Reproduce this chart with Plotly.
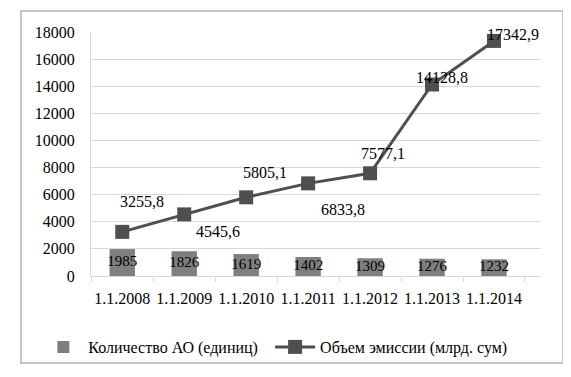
import plotly.graph_objects as go

categories = ["1.1.2008", "1.1.2009", "1.1.2010", "1.1.2011", "1.1.2012", "1.1.2013", "1.1.2014"]
count_ao = [1985, 1826, 1619, 1402, 1309, 1276, 1232]
emission = [3255.8, 4545.6, 5805.1, 6833.8, 7577.1, 14128.8, 17342.9]
count_name = "Количество АО (единиц)"
emission_name = "Объем эмиссии (млрд. сум)"
y_ticks = [0, 2000, 4000, 6000, 8000, 10000, 12000, 14000, 16000, 18000]

# label pixel offsets (style only)
label_dx = [20, 34, 19, 35, 13, 10, 19]
label_dy = [30, -17, 25, -26, 20, 7, 6]

FONT = "Liberation Serif"
FS = 16
BAR_C = "#7f7f7f"
LINE_C = "#4f4f4f"

fig = go.Figure()
fig.add_trace(go.Bar(
    x=categories, y=count_ao, name=count_name, legend="legend",
    marker=dict(color=BAR_C, line=dict(width=0)), width=0.41,
))
fig.add_trace(go.Scatter(
    x=categories, y=[v / 2 for v in count_ao], mode="text",
    text=[str(v) for v in count_ao], textposition="middle center",
    textfont=dict(family=FONT, size=15, color="#000"),
    showlegend=False, hoverinfo="skip",
))
fig.add_trace(go.Scatter(
    x=categories, y=emission, name=emission_name, mode="lines+markers", legend="legend2",
    line=dict(color=LINE_C, width=3),
    marker=dict(symbol="square", size=14, color=LINE_C),
))

for c, v, dx, dy in zip(categories, emission, label_dx, label_dy):
    fig.add_annotation(
        x=c, y=v, text=f"{v:.1f}".replace(".", ","), showarrow=False,
        xshift=dx, yshift=dy, font=dict(family=FONT, size=FS, color="#000"),
    )

fig.add_shape(type="rect", xref="paper", yref="paper",
              x0=-0.1556, x1=1.049, y0=-0.357, y1=1.086,
              line=dict(color="#c4c4c4", width=2))

leg_common = dict(orientation="h", yanchor="middle", y=-0.291, xanchor="left",
                  font=dict(family=FONT, size=FS, color="#000"),
                  bgcolor="rgba(0,0,0,0)", itemwidth=40)

fig.update_layout(
    width=571, height=377,
    margin=dict(l=83, r=38, t=24, b=109),
    paper_bgcolor="white", plot_bgcolor="white",
    font=dict(family=FONT, size=FS, color="#000"),
    bargap=0.5,
    showlegend=True,
    legend=dict(x=-0.117, **leg_common),
    legend2=dict(x=0.398, **leg_common),
    xaxis=dict(type="category", showgrid=False, showline=True, linecolor="#d9d9d9",
               ticks="outside", tickson="boundaries", ticklen=5, tickcolor="#d9d9d9",
               ticklabelstandoff=8, tickangle=0),
    yaxis=dict(range=[0, 18000], tickvals=y_ticks, tickformat="d", showgrid=True,
               gridcolor="#d9d9d9", showline=True, linecolor="#d9d9d9", zeroline=False,
               ticklabelstandoff=12),
)

fig.write_html("out.html")
